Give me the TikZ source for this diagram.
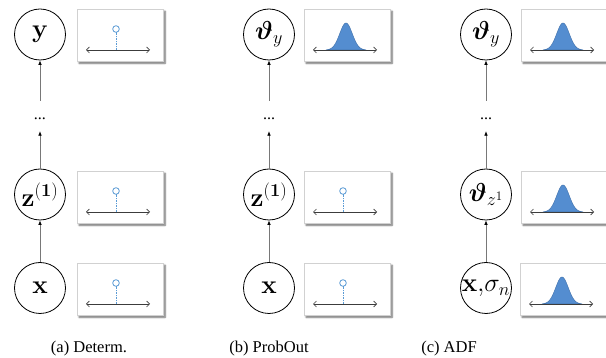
\RequirePackage{fix-cm}
\documentclass[tikz,border=0pt]{standalone}
\usepackage{amsmath}
\usepackage{bm}
\usepackage[no-math]{fontspec}
\setmainfont{Liberation Serif}
\usetikzlibrary{arrows.meta,shadows.blur,calc}

\definecolor{gaussblue}{RGB}{84,141,208}
\definecolor{gaussedge}{RGB}{65,113,170}
\definecolor{stemblue}{RGB}{91,155,213}
\definecolor{axisgray}{RGB}{60,60,60}
\definecolor{flowgray}{RGB}{120,120,120}

\tikzset{
  var/.style={circle, draw, line width=0.8pt, minimum size=51pt, inner sep=0pt,
              font=\fontsize{26}{30}\selectfont},
  distframe/.style={rectangle, draw=black!18, fill=white, line width=0.5pt,
              minimum width=86pt, minimum height=52pt, inner sep=0pt,
              blur shadow={shadow xshift=1.8pt, shadow yshift=-2pt,
                           shadow blur radius=1.8pt, shadow blur steps=6,
                           shadow opacity=60}},
  axisline/.style={axisgray, line width=0.7pt,
              {Straight Barb[length=3pt,width=6pt]}-{Straight Barb[length=3pt,width=6pt]}},
  stemline/.style={stemblue, line width=0.8pt, dash pattern=on 1.5pt off 1pt},
  gauss/.style={fill=gaussblue, draw=gaussedge, line width=0.4pt},
  flow/.style={flowgray, line width=0.7pt, -{Latex[black,length=4.5pt,width=3.6pt]}},
  caption/.style={font=\rmfamily\fontsize{16.5}{19}\selectfont, anchor=base},
  dots/.style={font=\rmfamily\fontsize{16}{19}\selectfont, inner sep=0pt},
  % point-mass (deterministic) value
  deltabox/.pic={
    \node[distframe, anchor=north west] (-box) at (0,0) {};
    \draw[axisline] (9,41) -- (73,41);
    \draw[stemline] (39,41) -- (39,23.4);
    \draw[stemblue, line width=0.8pt] (39,20) circle (3.3pt);
  },
  % Gaussian density
  gaussbox/.pic={
    \node[distframe, anchor=north west] (-box) at (0,0) {};
    \draw[gauss] plot[domain=-20:20, samples=70, smooth]
      ({42+\x}, {41-27*exp(-\x*\x/(2*6.3*6.3))}) -- cycle;
    \draw[axisline] (9,41) -- (73,41);
  }
}

\begin{document}
\begin{tikzpicture}[x=1pt, y=-1pt]
  \useasboundingbox (0,0) rectangle (606,358);

  % (a) deterministic network
  \node[var] (ya) at (40,34.5) {$\mathbf{y}$};
  \node[var] (za) at (40,194.5) {$\mathbf{z}^{\mathbf{(1)}}$};
  \node[var] (xa) at (40,288) {$\mathbf{x}$};
  \node[dots] (da) at (40,119) {...};
  \pic (pa1) at (77,9) {deltabox};
  \pic (pa2) at (77,171) {deltabox};
  \pic (pa3) at (77,263) {deltabox};
  \draw[flow] (xa) -- (za);
  \draw[flow, shorten >=11pt] (za) -- (da);
  \draw[flow, shorten <=17pt] (da) -- (ya);
  \node[caption] (ca) at (89,352.5) {(a) Determ.};

  % (b) probabilistic output
  \node[var] (yb) at (269,34.5) {$\bm{\vartheta}_y$};
  \node[var] (zb) at (269,194.5) {$\mathbf{z}^{\mathbf{(1)}}$};
  \node[var] (xb) at (269,288) {$\mathbf{x}$};
  \node[dots] (db) at (269,119) {...};
  \pic (pb1) at (304,9) {gaussbox};
  \pic (pb2) at (304,171) {deltabox};
  \pic (pb3) at (304,263) {deltabox};
  \draw[flow] (xb) -- (zb);
  \draw[flow, shorten >=11pt] (zb) -- (db);
  \draw[flow, shorten <=17pt] (db) -- (yb);
  \node[caption] (cb) at (269,352.5) {(b) ProbOut};

  % (c) assumed density filtering
  \node[var] (yc) at (486,34.5) {$\bm{\vartheta}_y$};
  \node[var] (zc) at (486,194.5) {$\bm{\vartheta}_{z^1}$};
  \node[var] (xc) at (486,288) {$\mathbf{x,}\sigma_n$};
  \node[dots] (dc) at (486,119) {...};
  \pic (pc1) at (521,9) {gaussbox};
  \pic (pc2) at (521,171) {gaussbox};
  \pic (pc3) at (520,263) {gaussbox};
  \draw[flow] (xc) -- (zc);
  \draw[flow, shorten >=11pt] (zc) -- (dc);
  \draw[flow, shorten <=17pt] (dc) -- (yc);
  \node[caption] (cc) at (449,352.5) {(c) ADF};
\end{tikzpicture}
\end{document}
